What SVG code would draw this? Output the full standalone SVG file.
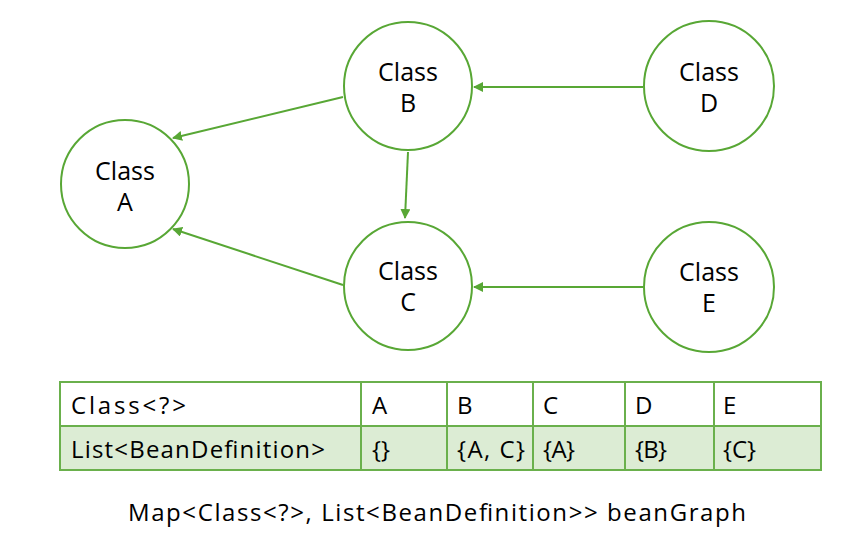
<svg xmlns="http://www.w3.org/2000/svg" width="862" height="536" viewBox="0 0 862 536">
<style>
.node{fill:#fff;stroke:#58a735;stroke-width:2}
.lbl{font-family:"Open Sans","Noto Sans",sans-serif;font-size:25px;fill:#000;text-anchor:middle}
.edge{stroke:#58a735;stroke-width:2;fill:none;marker-end:url(#ah)}
.cell{stroke:#6ab04c;stroke-width:2}
.t{font-family:"Open Sans","Noto Sans",sans-serif;font-size:24px;fill:#000}
</style>
<defs>
<marker id="ah" viewBox="0 0 10 10" refX="9" refY="5" markerWidth="5" markerHeight="5" orient="auto" markerUnits="strokeWidth">
<path d="M0,0 L10,5 L0,10 z" fill="#58a735"/>
</marker>
</defs>
<g id="connectors">
<line class="edge" x1="643" y1="87" x2="474" y2="87"/>
<line class="edge" x1="643" y1="287" x2="474" y2="287"/>
<line class="edge" x1="343" y1="97" x2="173" y2="138"/>
<line class="edge" x1="408" y1="152" x2="405" y2="218"/>
<line class="edge" x1="343" y1="285" x2="173" y2="229"/>
</g>
<g id="nodeA"><circle class="node" cx="125" cy="184" r="64"/><text class="lbl" x="125" y="180">Class</text><text class="lbl" x="125" y="211">A</text></g>
<g id="nodeB"><circle class="node" cx="408" cy="86" r="64"/><text class="lbl" x="408" y="81">Class</text><text class="lbl" x="408" y="112">B</text></g>
<g id="nodeC"><circle class="node" cx="408" cy="286" r="64"/><text class="lbl" x="408" y="280">Class</text><text class="lbl" x="408" y="311">C</text></g>
<g id="nodeD"><circle class="node" cx="709" cy="86" r="65"/><text class="lbl" x="709" y="81">Class</text><text class="lbl" x="709" y="112">D</text></g>
<g id="nodeE"><circle class="node" cx="709" cy="287" r="65"/><text class="lbl" x="709" y="281">Class</text><text class="lbl" x="709" y="312">E</text></g>
<g id="table">
<rect x="60" y="382" width="761" height="44" fill="#fff" class="cell"/>
<rect x="60" y="426" width="761" height="44" fill="#dcecd4" class="cell"/>
<line class="cell" x1="361" y1="382" x2="361" y2="470"/>
<line class="cell" x1="447" y1="382" x2="447" y2="470"/>
<line class="cell" x1="533" y1="382" x2="533" y2="470"/>
<line class="cell" x1="625" y1="382" x2="625" y2="470"/>
<line class="cell" x1="714" y1="382" x2="714" y2="470"/>
<text class="t" x="71" y="414" textLength="115">Class&lt;?&gt;</text>
<text class="t" x="372" y="414">A</text>
<text class="t" x="457" y="414">B</text>
<text class="t" x="543" y="414">C</text>
<text class="t" x="635" y="414">D</text>
<text class="t" x="723" y="414">E</text>
<text class="t" x="71" y="458" textLength="254">List&lt;BeanDefinition&gt;</text>
<text class="t" x="372" y="458">{}</text>
<text class="t" x="457" y="458" textLength="68">{A, C}</text>
<text class="t" x="543" y="458" textLength="32">{A}</text>
<text class="t" x="635" y="458" textLength="32">{B}</text>
<text class="t" x="723" y="458" textLength="33">{C}</text>
</g>
<text class="t" x="437" y="521" text-anchor="middle" textLength="618">Map&lt;Class&lt;?&gt;, List&lt;BeanDefinition&gt;&gt; beanGraph</text>
</svg>
